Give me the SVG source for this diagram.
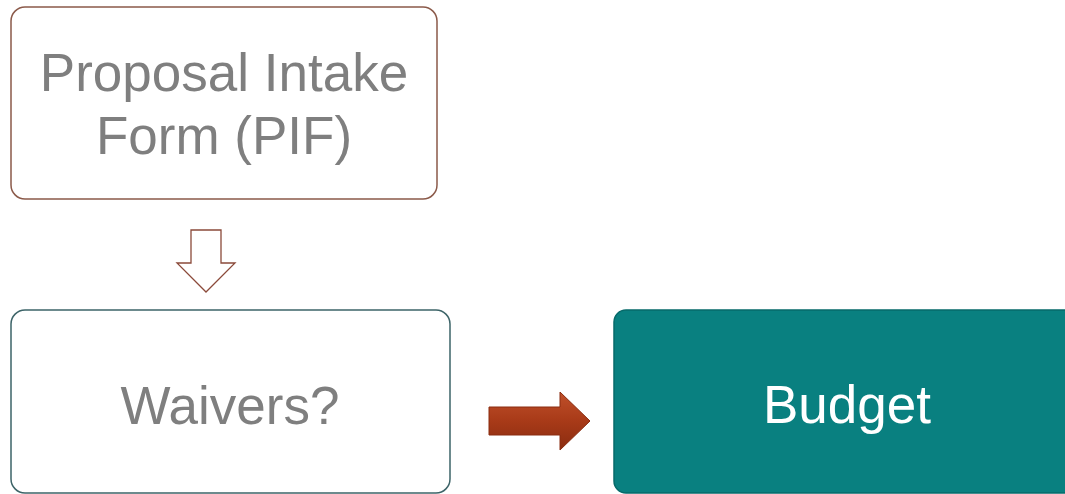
<svg xmlns="http://www.w3.org/2000/svg" width="1065" height="494" viewBox="0 0 1065 494">
<style>
.lbl{font-family:"Liberation Sans",Arial,sans-serif;font-size:53px;text-anchor:middle}
.gray{fill:#7f7f7f}
</style>
<defs>
<linearGradient id="rg" x1="0" y1="0" x2="0" y2="1">
<stop offset="0" stop-color="#c0502a"/>
<stop offset="0.5" stop-color="#a83a18"/>
<stop offset="1" stop-color="#8a2c10"/>
</linearGradient>
</defs>
<rect width="1065" height="494" fill="#fff"/>
<g id="pif">
<rect x="11" y="7" width="426" height="192" rx="14" fill="#fff" stroke="#8b5a4a" stroke-width="1.5"/>
<text class="lbl gray" x="224" y="91">Proposal Intake</text>
<text class="lbl gray" x="224" y="154">Form (PIF)</text>
</g>
<g id="waivers">
<rect x="11" y="310" width="439" height="183" rx="14" fill="#fff" stroke="#3d6468" stroke-width="1.5"/>
<text class="lbl gray" x="230" y="424">Waivers?</text>
</g>
<g id="budget">
<rect x="614" y="310" width="470" height="183" rx="12" fill="#098080" stroke="#066a6a" stroke-width="1.5"/>
<text class="lbl" x="847" y="423" fill="#fff">Budget</text>
</g>
<g id="connectors">
<path d="M191 230 H221 V263 H235 L206 292 L177 263 H191 Z" fill="#fff" stroke="#8b4a3a" stroke-width="1.3"/>
<path d="M489 407 H560 V392 L590 421 L560 450 V435 H489 Z" fill="url(#rg)" stroke="#8a2c10" stroke-width="1"/>
</g>
</svg>
